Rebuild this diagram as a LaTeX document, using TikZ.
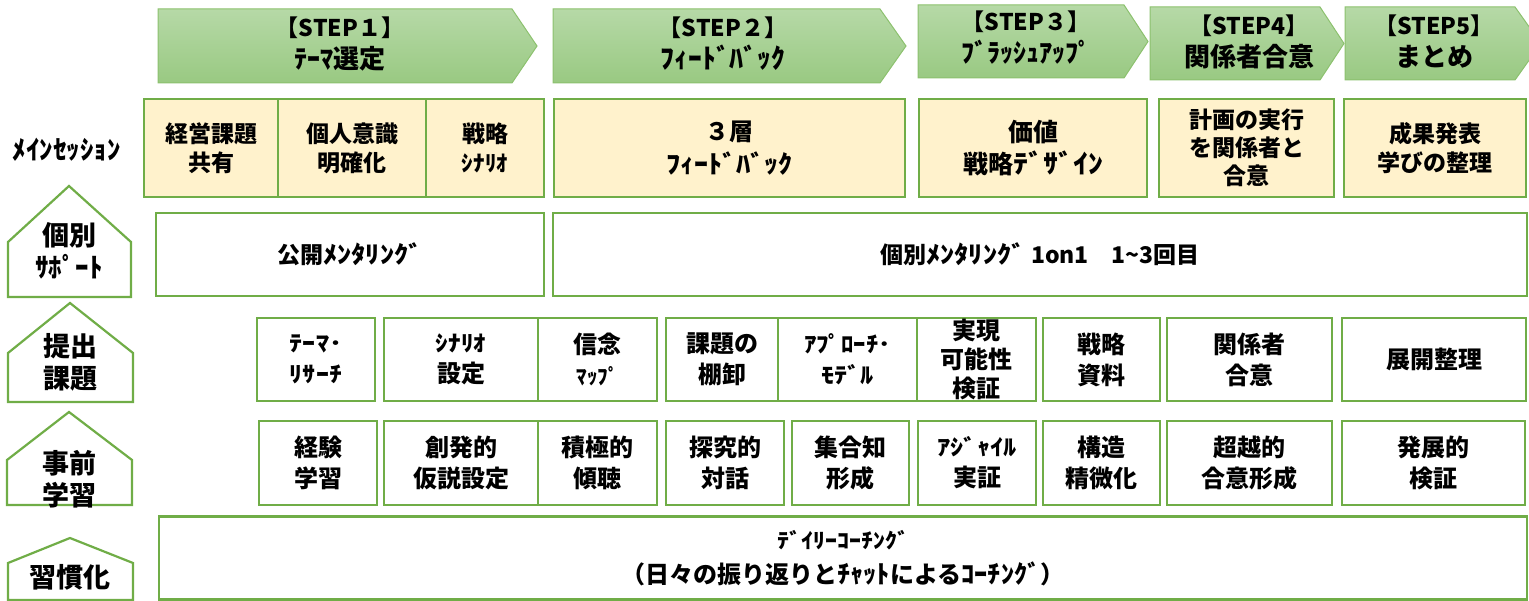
\documentclass[tikz,border=0pt]{standalone}
\usepackage{fontspec}
\usepackage{graphicx}
\setmainfont{Noto Sans CJK JP}
\definecolor{boxgreen}{HTML}{70AD47}
\definecolor{mainfill}{HTML}{FFF2CC}
\definecolor{steptop}{HTML}{B6D9A7}
\definecolor{stepbot}{HTML}{99C982}
\definecolor{stepline}{HTML}{8CC16E}
\newcommand\myfs[2]{\fontsize{#1}{#2}\selectfont\bfseries}
\newcommand\hw[2][1.2]{\scalebox{#1}[1.05]{#2}}
\begin{document}
\begin{tikzpicture}[x=1pt,y=-1pt,
  cell/.style={draw=boxgreen, line width=2.6pt, fill=white, inner sep=0pt, outer sep=0pt, align=center, font=\myfs{24}{31}},
  maincell/.style={cell, fill=mainfill, font=\myfs{23}{29}},
  stepshape/.style={draw=stepline, line width=1pt, top color=steptop, bottom color=stepbot},
  steptext/.style={align=center, inner sep=0pt, font=\myfs{26}{32}},
  house/.style={draw=boxgreen, line width=2.2pt, fill=white, line join=miter},
  hlbl/.style={align=center, inner sep=0pt, font=\myfs{27}{32}},
  small/.style={font=\myfs{21}{31}}]
\useasboundingbox (0,0) rectangle (1529,601);

% ---- step arrows ----
\path[stepshape] (158,9) -- (512,9) -- (537,46) -- (512,83) -- (158,83) -- cycle;
\path[stepshape] (553,9) -- (880,9) -- (906,46) -- (880,83) -- (553,83) -- cycle;
\path[stepshape] (918,5) -- (1124,5) -- (1148,41.5) -- (1124,78) -- (918,78) -- cycle;
\path[stepshape] (1150,7) -- (1320,7) -- (1344,43.5) -- (1320,80) -- (1150,80) -- cycle;
\path[stepshape] (1345,7) -- (1515,7) -- (1541,43.5) -- (1515,80) -- (1345,80) -- cycle;
\node[steptext] (s1) at (340,44) {{\fontsize{23}{32}\selectfont 【STEP１】}\\ﾃｰﾏ選定};
\node[steptext] (s2) at (723,44) {{\fontsize{23}{32}\selectfont 【STEP２】}\\\hw[1.06]{ﾌｨｰﾄﾞﾊﾞｯｸ}};
\node[steptext] (s3) at (1026,38) {{\fontsize{23}{32}\selectfont 【STEP３】}\\ﾌﾞﾗｯｼｭｱｯﾌﾟ};
\node[steptext] (s4) at (1249,42) {{\fontsize{23}{32}\selectfont 【STEP4】}\\関係者合意};
\node[steptext] (s5) at (1434,42) {{\fontsize{23}{32}\selectfont 【STEP5】}\\まとめ};

% ---- row labels / houses ----
\node[inner sep=0pt, font=\myfs{25}{30}] (lmain) at (67,150) {\hw[1.08]{ﾒｲﾝｾｯｼｮﾝ}};
\path[house] (8,297) -- (8,242) -- (69,186) -- (131,242) -- (131,297) -- cycle;
\path[house] (8,402) -- (8,353) -- (70,303) -- (133,353) -- (133,402) -- cycle;
\path[house] (7,505) -- (7,460) -- (69,412) -- (132,460) -- (132,505) -- cycle;
\path[house] (8,600) -- (8,563) -- (70,538) -- (133,563) -- (133,600) -- cycle;
\node[hlbl] (lh1) at (69,251) {個別\\ｻﾎﾟｰﾄ};
\node[hlbl] (lh2) at (70,362) {提出\\課題};
\node[hlbl] (lh3) at (69,479) {事前\\学習};
\node[hlbl] (lh4) at (70,577) {習慣化};

% ---- main session ----
\node[maincell, minimum width=134, minimum height=98] (m1) at (211,148) {経営課題\\共有};
\node[maincell, minimum width=148, minimum height=98] (m2) at (352,148) {個人意識\\明確化};
\node[maincell, minimum width=118, minimum height=98] (m3) at (485,148) {戦略\\{\fontsize{21}{29}\selectfont \hw[1.1]{ｼﾅﾘｵ}}};
\node[maincell, minimum width=351, minimum height=98, font=\myfs{24}{33}] (m4) at (729.5,148) {３層\\\hw[1.17]{ﾌｨｰﾄﾞﾊﾞｯｸ}};
\node[maincell, minimum width=228, minimum height=98, font=\myfs{25}{32}] (m5) at (1033,148) {価値\\戦略\hw{ﾃﾞｻﾞｲﾝ}};
\node[maincell, minimum width=175, minimum height=98, font=\myfs{23}{28}] (m6) at (1246.5,148) {計画の実行\\を関係者と\\合意};
\node[maincell, minimum width=182, minimum height=98] (m7) at (1435,148) {成果発表\\学びの整理};

% ---- individual support ----
\node[cell, minimum width=388, minimum height=83, font=\myfs{23}{29}] (i1) at (350,254.5) {公開\hw[1.24]{ﾒﾝﾀﾘﾝｸﾞ}};
\node[cell, minimum width=974, minimum height=83, font=\myfs{23}{29}] (i2) at (1040,254.5) {個別\hw[1.24]{ﾒﾝﾀﾘﾝｸﾞ} 1on1　1{\char"007E}3回目};

% ---- submissions ----
\node[cell, minimum width=118, minimum height=83, small] (t1) at (316,359.5) {\hw[1.24]{ﾃｰﾏ･}\\\hw[1.24]{ﾘｻｰﾁ}};
\node[cell, minimum width=154, minimum height=83] (t2) at (461,359.5) {{\fontsize{21}{31}\selectfont \hw{ｼﾅﾘｵ}}\\設定};
\node[cell, minimum width=119, minimum height=83] (t3) at (597.5,359.5) {信念\\{\fontsize{21}{31}\selectfont ﾏｯﾌﾟ}};
\node[cell, minimum width=112, minimum height=83] (t4) at (722,359.5) {課題の\\棚卸};
\node[cell, minimum width=139, minimum height=83, small] (t5) at (847.5,359.5) {\hw[1.18]{ｱﾌﾟﾛｰﾁ･}\\\hw[1.25]{ﾓﾃﾞﾙ}};
\node[cell, minimum width=119, minimum height=83, font=\myfs{24}{29}] (t6) at (976.5,359.5) {実現\\可能性\\検証};
\node[cell, minimum width=117, minimum height=83] (t7) at (1101.5,359.5) {戦略\\資料};
\node[cell, minimum width=165, minimum height=83] (t8) at (1249.5,359.5) {関係者\\合意};
\node[cell, minimum width=184, minimum height=83] (t9) at (1434,359.5) {展開整理};

% ---- pre-learning ----
\node[cell, minimum width=118, minimum height=84] (p1) at (318,463) {経験\\学習};
\node[cell, minimum width=154, minimum height=84] (p2) at (461,463) {創発的\\仮説設定};
\node[cell, minimum width=119, minimum height=84] (p3) at (597.5,463) {積極的\\傾聴};
\node[cell, minimum width=118, minimum height=84] (p4) at (725,463) {探究的\\対話};
\node[cell, minimum width=117, minimum height=84] (p5) at (850.5,463) {集合知\\形成};
\node[cell, minimum width=118, minimum height=84] (p6) at (977,463) {{\fontsize{21}{31}\selectfont \hw[1.25]{ｱｼﾞｬｲﾙ}}\\実証};
\node[cell, minimum width=117, minimum height=84] (p7) at (1101.5,463) {構造\\精微化};
\node[cell, minimum width=165, minimum height=84] (p8) at (1249.5,463) {超越的\\合意形成};
\node[cell, minimum width=183, minimum height=84] (p9) at (1433.5,463) {発展的\\検証};

% ---- habituation ----
\node[cell, minimum width=1368, minimum height=83, font=\myfs{24}{35}] (d1) at (843,558) {{\fontsize{20}{35}\selectfont \hw{ﾃﾞｲﾘｰｺｰﾁﾝｸﾞ}}\\（日々の振り返りと\hw[1.1]{ﾁｬｯﾄ}による\hw[1.1]{ｺｰﾁﾝｸﾞ}）};
\end{tikzpicture}
\end{document}
